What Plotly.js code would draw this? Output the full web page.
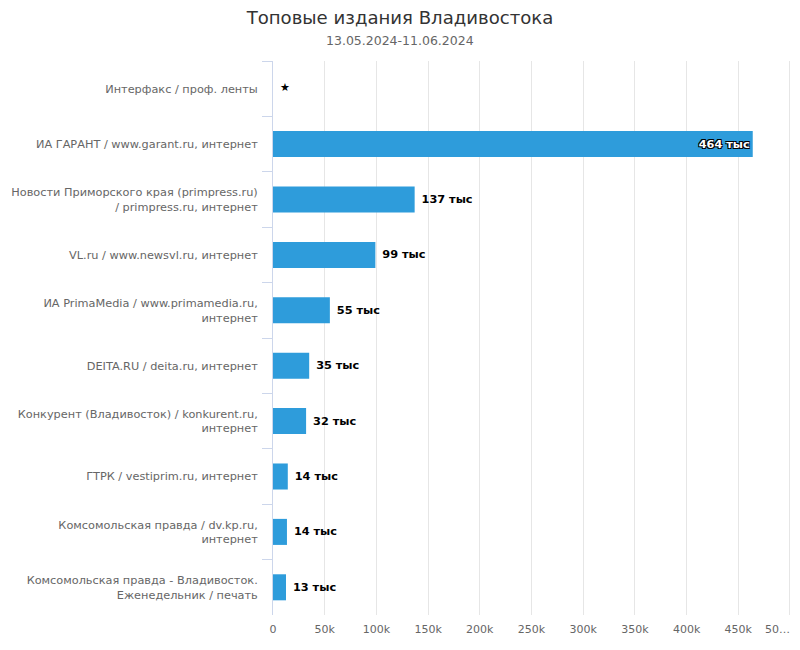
<!DOCTYPE html>
<html>
<head>
<meta charset="utf-8">
<script src="https://cdn.plot.ly/plotly-3.0.1.min.js"></script>
<style>html,body{margin:0;padding:0;background:#fff;}#chart{width:800px;height:650px;}</style>
</head>
<body>
<div id="chart"></div>
<script>
const categories = [
  "Интерфакс / проф. ленты",
  "ИА ГАРАНТ / www.garant.ru, интернет",
  "Новости Приморского края (primpress.ru)<br>/ primpress.ru, интернет",
  "VL.ru / www.newsvl.ru, интернет",
  "ИА PrimaMedia / www.primamedia.ru,<br>интернет",
  "DEITA.RU / deita.ru, интернет",
  "Конкурент (Владивосток) / konkurent.ru,<br>интернет",
  "ГТРК / vestiprim.ru, интернет",
  "Комсомольская правда / dv.kp.ru,<br>интернет",
  "Комсомольская правда - Владивосток.<br>Еженедельник / печать"
];
const audience = [null, 464000, 137000, 99000, 55000, 35000, 32000, 14300, 13500, 12600];
const labelPositions = ["none", "inside", "outside", "outside", "outside", "outside", "outside", "outside", "outside", "outside"];
const starCategory = ["Интерфакс / проф. ленты"];
const starValue = [0];
const starText = ["\u00A0\u00A0★"];
const tickValues = [0, 50000, 100000, 150000, 200000, 250000, 300000, 350000, 400000, 450000];
const tickLabels = ["0", "50k", "100k", "150k", "200k", "250k", "300k", "350k", "400k", "450k"];
const lastTickValue = [500000];
const lastTickLabel = ["50…"];
const gridValues = [0, 50000, 100000, 150000, 200000, 250000, 300000, 350000, 400000, 450000, 500000];
const titleText = "Топовые издания Владивостока";
const subtitleText = "13.05.2024-11.06.2024";

const barLabels = audience.map((v, i) => v == null ? "" :
  (labelPositions[i] === "outside" ? "\u00A0" : "") + Math.round(v / 1000) + " тыс");
const font = "DejaVu Sans, Verdana, sans-serif";
const xRange = [0, 501000];

const traces = [
  {
    type: "bar",
    orientation: "h",
    y: categories,
    x: audience,
    marker: {color: "#2E9CDB"},
    text: barLabels,
    textposition: labelPositions,
    insidetextanchor: "end",
    insidetextfont: {family: font, size: 11.3, color: "#ffffff", weight: "bold",
      shadow: "1px 1px 0 #000, -1px -1px 0 #000, 1px -1px 0 #000, -1px 1px 0 #000"},
    outsidetextfont: {family: font, size: 11.3, color: "#000000", weight: "bold"},
    cliponaxis: false,
    hoverinfo: "x+y",
    showlegend: false
  },
  {
    type: "scatter",
    mode: "text",
    xaxis: "x2",
    yaxis: "y",
    y: starCategory,
    x: starValue,
    text: starText,
    textposition: "middle right",
    textfont: {family: font, size: 11, color: "#000000"},
    cliponaxis: false,
    showlegend: false,
    hoverinfo: "skip"
  }
];

const layout = {
  width: 800,
  height: 650,
  margin: {l: 273, r: 9, t: 61, b: 35},
  paper_bgcolor: "#ffffff",
  plot_bgcolor: "#ffffff",
  bargap: 0.53,
  font: {family: font, size: 11, color: "#666666"},
  title: {
    text: titleText,
    font: {family: font, size: 18.1, color: "#333333"},
    x: 0.5, xanchor: "center",
    y: 1 - 18 / 650, yanchor: "middle", yref: "container"
  },
  annotations: [{
    text: subtitleText,
    xref: "paper", yref: "paper",
    x: (400 - 273) / 518, y: (615 - 41) / 554,
    xanchor: "center", yanchor: "middle",
    showarrow: false,
    font: {family: font, size: 12.5, color: "#666666"}
  }],
  xaxis: {
    range: xRange,
    tickvals: tickValues,
    ticktext: tickLabels,
    showgrid: true,
    gridcolor: "#e6e6e6",
    gridwidth: 1,
    zeroline: false,
    showline: false,
    ticks: "",
    ticklabelstandoff: 6,
    tickfont: {family: font, size: 11, color: "#666666"},
    fixedrange: true
  },
  xaxis2: {
    overlaying: "x",
    anchor: "y",
    side: "bottom",
    range: xRange,
    tickvals: lastTickValue,
    ticktext: lastTickLabel,
    ticklabelposition: "outside left",
    ticklabeloverflow: "allow",
    showgrid: true,
    gridcolor: "#e6e6e6",
    zeroline: false,
    showline: false,
    ticks: "",
    ticklabelstandoff: 6,
    tickfont: {family: font, size: 11, color: "#666666"},
    fixedrange: true
  },
  yaxis: {
    type: "category",
    autorange: "reversed",
    showgrid: false,
    zeroline: false,
    showline: true,
    linecolor: "#ccd6eb",
    linewidth: 1,
    ticks: "outside",
    tickson: "boundaries",
    ticklen: 10,
    tickcolor: "#ccd6eb",
    ticklabelstandoff: 12,
    tickfont: {family: font, size: 11.3, color: "#666666"},
    fixedrange: true
  }
};

Plotly.newPlot("chart", traces, layout, {displayModeBar: false, staticPlot: true});
</script>
</body>
</html>
